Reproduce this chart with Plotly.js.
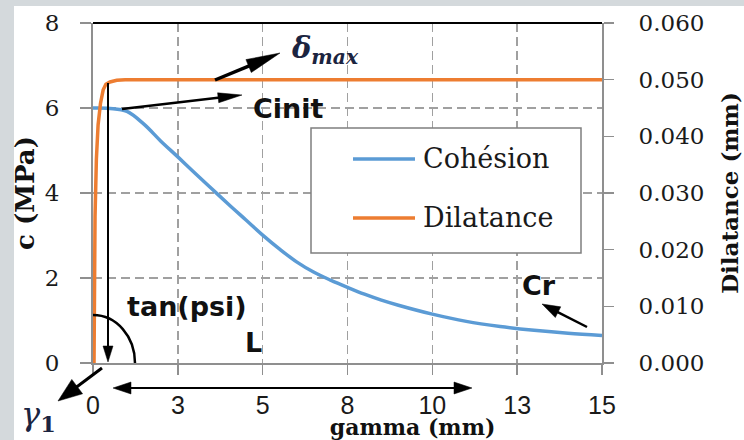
<!DOCTYPE html>
<html><head><meta charset="utf-8">
<script src="https://cdn.plot.ly/plotly-3.0.1.min.js"></script>
<style>html,body{margin:0;padding:0;background:#d4d9dc;}#chart{width:744px;height:440px;}</style>
</head><body><div id="chart"></div>
<script>
// ---- data ----
const gammaCohesion = [0, 0.5, 1, 1.5, 2, 2.5, 3, 3.5, 4, 4.5, 5, 5.5, 6, 6.5, 7, 7.5, 8, 8.5, 9, 10, 11, 12, 13, 14, 15];
const cohesion      = [6.0, 5.99, 5.92, 5.62, 5.22, 4.85, 4.47, 4.1, 3.73, 3.37, 3.01, 2.68, 2.38, 2.14, 1.95, 1.78, 1.62, 1.48, 1.36, 1.15, 0.98, 0.86, 0.77, 0.70, 0.65];
const gammaDilatance = [0.03, 0.04, 0.06, 0.1, 0.15, 0.22, 0.3, 0.38, 0.5, 0.7, 0.95, 15];
const dilatance      = [0, 0.012, 0.0258, 0.036, 0.042, 0.0458, 0.0482, 0.0492, 0.0496, 0.0499, 0.05, 0.05];
const seriesNames  = ['Cohésion', 'Dilatance'];
const seriesColors = ['#5b9bd5', '#ed7d31'];
const xTickVals = [0, 2.5, 5, 7.5, 10, 12.5, 15];
const xTickText = ['0', '3', '5', '8', '10', '13', '15'];
const cTickVals = [0, 2, 4, 6, 8];
const dTickVals = [0, 0.01, 0.02, 0.03, 0.04, 0.05, 0.06];

// ---- pixel -> paper helpers (plot area 93..602 x 23..363) ----
const L = 93, T = 23, W = 509, H = 340;
const px = x => (x - L) / W;
const py = y => (T + H - y) / H;

function head(tx, ty, ux, uy, len, hw) {
  const bx = tx - ux * len, by = ty - uy * len, nx = -uy, ny = ux;
  return {type: 'path', xref: 'paper', yref: 'paper', layer: 'above',
    path: `M${px(tx)},${py(ty)} L${px(bx + nx * hw)},${py(by + ny * hw)} L${px(bx - nx * hw)},${py(by - ny * hw)} Z`,
    fillcolor: '#000', line: {color: '#000', width: 0.5}};
}
function arrow(x1, y1, x2, y2, len, hw, lw, both) {
  const dx = x2 - x1, dy = y2 - y1, d = Math.hypot(dx, dy), ux = dx / d, uy = dy / d;
  const s = [];
  const sx = both ? x1 + ux * (len - 2) : x1, sy = both ? y1 + uy * (len - 2) : y1;
  s.push({type: 'line', xref: 'paper', yref: 'paper', layer: 'above',
    x0: px(sx), y0: py(sy), x1: px(x2 - ux * (len - 2)), y1: py(y2 - uy * (len - 2)),
    line: {color: '#000', width: lw}});
  s.push(head(x2, y2, ux, uy, len, hw));
  if (both) s.push(head(x1, y1, -ux, -uy, len, hw));
  return s;
}

const traces = [
  {x: gammaCohesion, y: cohesion, name: seriesNames[0], type: 'scatter', mode: 'lines',
   line: {color: seriesColors[0], width: 3.5, shape: 'spline', smoothing: 1}, yaxis: 'y'},
  {x: gammaDilatance, y: dilatance, name: seriesNames[1], type: 'scatter', mode: 'lines',
   line: {color: seriesColors[1], width: 3.5}, yaxis: 'y2'}
];

const axisGray = '#8f8f8f';
const shapes = [
  {type: 'rect', xref: 'paper', yref: 'paper', layer: 'below', x0: px(14), x1: px(744), y0: py(6), y1: py(440),
   fillcolor: '#ffffff', line: {width: 0}},
  {type: 'line', xref: 'paper', yref: 'paper', layer: 'above', x0: 0, x1: 1, y0: 1, y1: 1, line: {color: '#000', width: 2}},
  // legend box and samples
  {type: 'rect', xref: 'paper', yref: 'paper', layer: 'above', x0: px(311), x1: px(581), y0: py(128), y1: py(253),
   fillcolor: '#ffffff', line: {color: '#7f7f7f', width: 1.5}},
  {type: 'line', xref: 'paper', yref: 'paper', layer: 'above', x0: px(353), x1: px(415), y0: py(159), y1: py(159),
   line: {color: seriesColors[0], width: 3.5}},
  {type: 'line', xref: 'paper', yref: 'paper', layer: 'above', x0: px(353), x1: px(415), y0: py(218), y1: py(218),
   line: {color: seriesColors[1], width: 3.5}},
  // arc (psi)
  {type: 'path', xref: 'paper', yref: 'paper', layer: 'above',
   path: `M${px(93)},${py(315)} C${px(116.5)},${py(315)} ${px(135)},${py(336.5)} ${px(135)},${py(363)}`,
   line: {color: '#000', width: 2.5}},
  ...arrow(108, 83, 108, 362, 16, 5, 2),
  ...arrow(215, 80, 280, 53, 34, 7, 3.5),
  ...arrow(122, 109, 242, 95, 24, 5, 2.5),
  ...arrow(113, 388, 472, 388, 18, 6, 2, true),
  ...arrow(102, 368, 58, 401, 24, 9, 3),
  ...arrow(587, 327, 542, 304, 18, 6, 2.5)
];

function txt(text, x, y, font, xanchor) {
  return {text: text, xref: 'paper', yref: 'paper', x: px(x), y: py(y), showarrow: false,
    xanchor: xanchor || 'center', yanchor: 'middle', font: font};
}
const sansBold = {family: 'DejaVu Sans', size: 27, color: '#111'};
const mathFont = {family: 'DejaVu Serif', size: 29, color: '#1b2440'};
const legFont = {family: 'DejaVu Serif', size: 27, color: '#1a1a1a'};
const annotations = [
  txt('<b><i>δ<sub>max</sub></i></b>', 325, 50, mathFont),
  txt('<b>Cinit</b>', 288, 108, sansBold),
  txt('<b>tan(psi)</b>', 187, 306, sansBold),
  txt('<b>L</b>', 253, 342, sansBold),
  txt('<b>Cr</b>', 539, 285, sansBold),
  txt('<i>γ</i><sub><b>1</b></sub>', 38, 416, {family: 'DejaVu Serif', size: 32, color: '#1b2440'}),
  txt(seriesNames[0], 421, 158, legFont, 'left'),
  txt(seriesNames[1], 421, 217, legFont, 'left')
];

const layout = {
  width: 744, height: 440,
  margin: {l: 93, r: 142, t: 23, b: 77, pad: 0},
  paper_bgcolor: '#d4d9dc', plot_bgcolor: 'rgba(0,0,0,0)',
  showlegend: false,
  xaxis: {range: [0, 15], tickmode: 'array', tickvals: xTickVals, ticktext: xTickText,
    showgrid: true, gridcolor: '#a0a0a0', griddash: '9px,5px', gridwidth: 1.4, zeroline: false,
    showline: true, linecolor: axisGray, linewidth: 2, ticks: 'outside', ticklen: 10, tickwidth: 1.5, tickcolor: axisGray,
    tickfont: {family: 'Liberation Sans', size: 25, color: '#1a1a1a'}, ticklabelstandoff: 9,
    title: {text: '<b>' + '\u00a0'.repeat(17) + 'gamma (mm)</b>', font: {family: 'DejaVu Serif', size: 22, color: '#111'}, standoff: 2}},
  yaxis: {range: [0, 8], tickmode: 'array', tickvals: cTickVals,
    showgrid: true, gridcolor: '#a0a0a0', griddash: '9px,5px', gridwidth: 1.4, zeroline: false,
    showline: true, linecolor: axisGray, linewidth: 2, ticks: 'outside', ticklen: 11, tickwidth: 1.5, tickcolor: axisGray,
    tickfont: {family: 'DejaVu Serif', size: 23, color: '#1a1a1a'}, ticklabelstandoff: 16,
    title: {text: '<b>c (MPa)</b>', font: {family: 'DejaVu Serif', size: 26, color: '#111'}, standoff: 3}},
  yaxis2: {range: [0, 0.06], overlaying: 'y', side: 'right', tickmode: 'array', tickvals: dTickVals, tickformat: '.3f',
    showgrid: false, zeroline: false,
    showline: true, linecolor: axisGray, linewidth: 2, ticks: 'outside', ticklen: 10, tickwidth: 1.5, tickcolor: axisGray,
    tickfont: {family: 'DejaVu Serif', size: 23, color: '#1a1a1a'}, ticklabelstandoff: 20,
    title: {text: '<b>Dilatance (mm)</b>', font: {family: 'DejaVu Serif', size: 23, color: '#111'}, standoff: 18}},
  shapes: shapes,
  annotations: annotations
};

Plotly.newPlot('chart', traces, layout, {displayModeBar: false, staticPlot: true});
</script>
</body></html>
